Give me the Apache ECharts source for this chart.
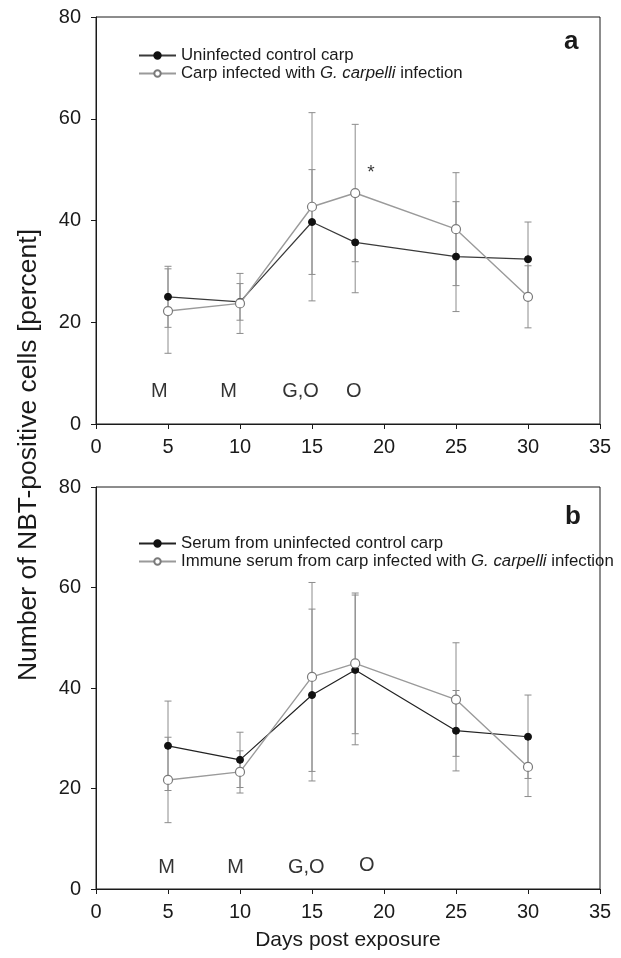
<!DOCTYPE html>
<html><head><meta charset="utf-8">
<script src="https://cdn.jsdelivr.net/npm/echarts@6/dist/echarts.min.js"></script>
<style>html,body{margin:0;padding:0;background:#fff}#c{width:621px;height:958px}</style>
</head><body><div id="c"></div>
<script>
// ---- data ----
const days = [5, 10, 15, 18, 25, 30];

// panel a
const aControlName = 'Uninfected control carp';
const aControlMean = [25.0, 24.0, 39.7, 35.7, 32.9, 32.4];
const aControlSD   = [6.0, 3.6, 10.3, 9.9, 10.8, 7.3];
const aInfectedName = 'Carp infected with G. carpelli infection';
const aInfectedMean = [22.2, 23.7, 42.7, 45.4, 38.3, 25.0];
const aInfectedSD   = [8.3, 5.9, 18.5, 13.5, 11.1, 6.1];

// panel b
const bControlName = 'Serum from uninfected control carp';
const bControlMean = [28.5, 25.7, 38.6, 43.6, 31.5, 30.3];
const bControlSD   = [8.9, 5.5, 17.1, 14.9, 8.0, 8.3];
const bImmuneName = 'Immune serum from carp infected with G. carpelli infection';
const bImmuneMean = [21.7, 23.3, 42.2, 44.9, 37.7, 24.3];
const bImmuneSD   = [8.5, 4.2, 18.8, 14.0, 11.3, 5.9];

// stage annotations (text, day, value)
const stageText = ['M', 'M', 'G,O', 'O'];
const aStageDay = [4.4, 9.2, 14.2, 17.9];
const aStageVal = [6.3, 6.3, 6.3, 6.3];
const bStageDay = [4.9, 9.7, 14.6, 18.8];
const bStageVal = [4.3, 4.3, 4.3, 4.6];

// significance mark
const starText = ['*'];
const starDay = [19.1];
const starVal = [49.3];

const xMin = 0, xMax = 35, xStep = 5;
const yMin = 0, yMax = 80, yStep = 20;
const yTitle = 'Number of NBT-positive cells [percent]';
const xTitle = 'Days post exposure';

// ---- chart ----
const FONT = '"Liberation Sans", Arial, Helvetica, sans-serif';
const INK = '#1a1a1a';
const GREY = '#8c8c8c';

function pairs(xs, ys) { return xs.map((x, i) => [x, ys[i]]); }

function xAxis(gi, showName) {
  return {
    type: 'value', gridIndex: gi, min: xMin, max: xMax, interval: xStep,
    axisLine: { show: true, lineStyle: { color: INK, width: 1 } },
    axisTick: { show: true, inside: false, length: 5, lineStyle: { color: INK } },
    axisLabel: { fontFamily: FONT, fontSize: 20, color: INK, margin: 13 },
    splitLine: { show: false },
    name: showName ? xTitle : '', nameLocation: 'middle', nameGap: 41,
    nameTextStyle: { fontFamily: FONT, fontSize: 21, color: INK }
  };
}
function yAxis(gi) {
  return {
    type: 'value', gridIndex: gi, min: yMin, max: yMax, interval: yStep,
    axisLine: { show: true, lineStyle: { color: INK, width: 1 } },
    axisTick: { show: true, inside: false, length: 5, lineStyle: { color: INK } },
    axisLabel: { fontFamily: FONT, fontSize: 20, color: INK, margin: 15 },
    splitLine: { show: false }
  };
}
function errSeries(means, sds, gi, color, z) {
  return {
    type: 'custom', xAxisIndex: gi, yAxisIndex: gi, z: z, silent: true,
    data: days.map((d, i) => [d, means[i] - sds[i], means[i] + sds[i]]),
    renderItem: function (params, api) {
      const lo = api.coord([api.value(0), api.value(1)]);
      const hi = api.coord([api.value(0), api.value(2)]);
      const w = 3.5;
      const st = { stroke: color, lineWidth: 1 };
      return { type: 'group', children: [
        { type: 'line', shape: { x1: lo[0], y1: lo[1], x2: hi[0], y2: hi[1] }, style: st },
        { type: 'line', shape: { x1: lo[0] - w, y1: lo[1], x2: lo[0] + w, y2: lo[1] }, style: st },
        { type: 'line', shape: { x1: hi[0] - w, y1: hi[1], x2: hi[0] + w, y2: hi[1] }, style: st }
      ]};
    }
  };
}
function filledLine(name, means, gi, lineColor) {
  return {
    name: name, type: 'line', xAxisIndex: gi, yAxisIndex: gi, z: 4,
    data: pairs(days, means), symbol: 'circle', symbolSize: 7,
    lineStyle: { color: lineColor, width: 1.2 },
    itemStyle: { color: '#111', borderColor: '#111', borderWidth: 1 }
  };
}
function openLine(name, means, gi) {
  return {
    name: name, type: 'line', xAxisIndex: gi, yAxisIndex: gi, z: 5,
    data: pairs(days, means), symbol: 'circle', symbolSize: 9,
    lineStyle: { color: '#9a9a9a', width: 1.4 },
    itemStyle: { color: '#ffffff', borderColor: '#7a7a7a', borderWidth: 1.2 }
  };
}
function textSeries(texts, xs, ys, gi, size) {
  return {
    type: 'scatter', xAxisIndex: gi, yAxisIndex: gi, symbolSize: 0, silent: true, z: 6,
    data: texts.map((t, i) => ({ value: [xs[i], ys[i]], name: t })),
    label: { show: true, position: 'inside', formatter: p => p.name,
      fontFamily: FONT, fontSize: size, color: '#000' }
  };
}
function legend(names, top) {
  return {
    data: names, orient: 'vertical', left: 133, top: top,
    itemWidth: 37, itemHeight: 8, itemGap: 1,
    textStyle: { fontFamily: FONT, fontSize: 16.8, color: INK,
      rich: { i: { fontFamily: FONT, fontSize: 16.8, fontStyle: 'italic', color: INK } } },
    formatter: n => n.replace('G. carpelli', '{i|G. carpelli}')
  };
}

const chart = echarts.init(document.getElementById('c'), null, { renderer: 'canvas' });
chart.setOption({
  animation: false,
  backgroundColor: '#ffffff',
  grid: [
    { left: 96, top: 17, width: 504, height: 407, show: true, borderColor: INK, borderWidth: 1, backgroundColor: 'transparent' },
    { left: 96, top: 487, width: 504, height: 402, show: true, borderColor: INK, borderWidth: 1, backgroundColor: 'transparent' }
  ],
  xAxis: [xAxis(0, false), xAxis(1, true)],
  yAxis: [yAxis(0), yAxis(1)],
  legend: [legend([aControlName, aInfectedName], 42), legend([bControlName, bImmuneName], 530)],
  graphic: [
    { type: 'text', rotation: Math.PI / 2, z: 10, x: 29, y: 455,
      style: { text: yTitle, font: '26.5px ' + FONT, fill: INK, textAlign: 'center', textVerticalAlign: 'middle' } },
    { type: 'text', x: 564, y: 29, style: { text: 'a', font: 'bold 26px ' + FONT, fill: INK } },
    { type: 'text', x: 565, y: 504, style: { text: 'b', font: 'bold 26px ' + FONT, fill: INK } }
  ],
  series: [
    errSeries(aControlMean, aControlSD, 0, GREY, 2),
    errSeries(aInfectedMean, aInfectedSD, 0, GREY, 2),
    filledLine(aControlName, aControlMean, 0, '#3a3a3a'),
    openLine(aInfectedName, aInfectedMean, 0),
    textSeries(stageText, aStageDay, aStageVal, 0, 20),
    textSeries(starText, starDay, starVal, 0, 19),
    errSeries(bControlMean, bControlSD, 1, GREY, 2),
    errSeries(bImmuneMean, bImmuneSD, 1, GREY, 2),
    filledLine(bControlName, bControlMean, 1, '#222'),
    openLine(bImmuneName, bImmuneMean, 1),
    textSeries(stageText, bStageDay, bStageVal, 1, 20)
  ]
});
</script></body></html>
